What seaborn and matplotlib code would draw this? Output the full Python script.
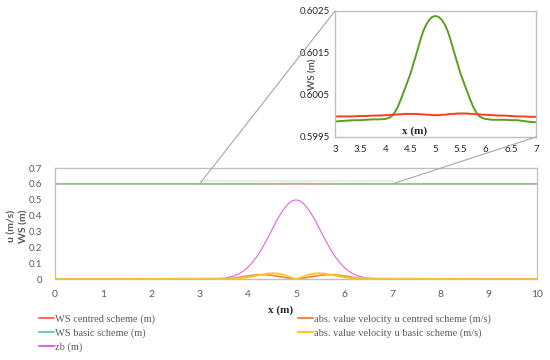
import matplotlib
matplotlib.use("Agg")
import pandas as pd
import seaborn as sns
import matplotlib.pyplot as plt
from matplotlib.patches import Rectangle, ConnectionPatch
from matplotlib.lines import Line2D

# grid for bed and velocities
x = [0, 0.5, 1, 1.5, 2, 2.5,
     3.0, 3.1, 3.2, 3.3, 3.4, 3.5, 3.6, 3.7, 3.8, 3.9,
     4.0, 4.1, 4.2, 4.3, 4.4, 4.5, 4.6, 4.7, 4.8, 4.9,
     5.0, 5.1, 5.2, 5.3, 5.4, 5.5, 5.6, 5.7, 5.8, 5.9,
     6.0, 6.1, 6.2, 6.3, 6.4, 6.5, 6.6, 6.7, 6.8, 6.9,
     7.0, 7.5, 8, 8.5, 9, 9.5, 10]
zb = [0, 0, 0, 0, 0, 0,
      0.0003, 0.0005, 0.001, 0.002, 0.004, 0.007, 0.012, 0.020, 0.032, 0.050,
      0.075, 0.107, 0.148, 0.197, 0.252, 0.311, 0.369, 0.421, 0.463, 0.491,
      0.500, 0.491, 0.463, 0.421, 0.369, 0.311, 0.252, 0.197, 0.148, 0.107,
      0.075, 0.050, 0.032, 0.020, 0.012, 0.007, 0.004, 0.002, 0.001, 0.0005,
      0.0003, 0, 0, 0, 0, 0, 0]
u_centred = [0, 0, 0, 0, 0, 0,
             0, 0, 0, 0.0005, 0.001, 0.002, 0.004, 0.007, 0.011, 0.016,
             0.021, 0.025, 0.028, 0.029, 0.028, 0.025, 0.020, 0.015, 0.010, 0.005,
             0.0, 0.005, 0.010, 0.015, 0.020, 0.025, 0.028, 0.029, 0.028, 0.025,
             0.021, 0.016, 0.011, 0.007, 0.004, 0.002, 0.001, 0.0005, 0, 0,
             0, 0, 0, 0, 0, 0, 0]
u_basic = [0.001, 0.001, 0.001, 0.002, 0.003, 0.004,
           0.005, 0.005, 0.005, 0.005, 0.005, 0.005, 0.004, 0.004, 0.005, 0.008,
           0.012, 0.018, 0.024, 0.030, 0.035, 0.038, 0.037, 0.032, 0.023, 0.012,
           0.001, 0.012, 0.023, 0.032, 0.037, 0.038, 0.035, 0.030, 0.024, 0.018,
           0.012, 0.008, 0.006, 0.006, 0.006, 0.006, 0.006, 0.005, 0.005, 0.005,
           0.005, 0.004, 0.003, 0.002, 0.001, 0.001, 0]

# finer grid for the water surface
x_ws = [0,
        3.0, 3.125, 3.25, 3.375, 3.5, 3.625, 3.75, 3.875,
        4.0, 4.0625, 4.125, 4.1875, 4.25, 4.3125, 4.375, 4.4375, 4.5, 4.5625, 4.625, 4.6875, 4.75,
        4.8125, 4.875, 4.9375, 5.0,
        5.0625, 5.125, 5.1875, 5.25, 5.3125, 5.375, 5.4375, 5.5, 5.5625, 5.625, 5.6875, 5.75,
        5.8125, 5.875, 5.9375, 6.0,
        6.125, 6.25, 6.375, 6.5, 6.625, 6.75, 6.875, 7.0,
        10]
ws_basic = [0.59987,
            0.59987, 0.59988, 0.59989, 0.59990, 0.59990, 0.59991, 0.59992, 0.59992,
            0.59993, 0.59995, 0.59999, 0.60008, 0.60022, 0.60040, 0.60060, 0.60080, 0.60100, 0.60125,
            0.60150, 0.60176, 0.60200, 0.60217, 0.60229, 0.60236, 0.60238,
            0.60236, 0.60229, 0.60217, 0.60200, 0.60176, 0.60150, 0.60125, 0.60100, 0.60080, 0.60060,
            0.60040, 0.60022, 0.60008, 0.59999, 0.59995, 0.59993,
            0.59991, 0.59991, 0.59991, 0.59990, 0.59990, 0.59988, 0.59986, 0.59985,
            0.59985]
ws_centred = [0.59999,
              0.59999, 0.59999, 0.59999, 0.59999, 0.60000, 0.60000, 0.60001, 0.60001,
              0.60002, 0.60002, 0.60003, 0.60003, 0.60004, 0.60004, 0.60005, 0.60005, 0.60005, 0.60005,
              0.60005, 0.60004, 0.60004, 0.60003, 0.60003, 0.60002, 0.60002,
              0.60002, 0.60003, 0.60003, 0.60004, 0.60005, 0.60005, 0.60006, 0.60006, 0.60006, 0.60006,
              0.60005, 0.60005, 0.60004, 0.60004, 0.60003, 0.60003,
              0.60002, 0.60001, 0.60001, 0.60000, 0.59999, 0.59999, 0.59998, 0.59998,
              0.59998]

labels = ["WS centred scheme (m)", "WS basic scheme (m)", "zb (m)",
          "abs. value velocity u centred scheme (m/s)", "abs. value velocity u basic scheme (m/s)"]
colors = ["#ff6f61", "#66d9a0", "#dd66dd", "#f28c4a", "#ffc81e"]

df = pd.DataFrame({"x": x, "zb": zb, "uc": u_centred, "ub": u_basic})
dws = pd.DataFrame({"x": x_ws, "basic": ws_basic, "centred": ws_centred})

sns.set_style("white")
plt.rcParams["font.family"] = ["Lato", "DejaVu Sans"]

grey = "#595959"
spine = "#bfbfbf"

fig = plt.figure(figsize=(5.5, 3.6), dpi=100)
ax = fig.add_axes([55 / 550, 1 - 279.3 / 360, 482 / 550, 111.3 / 360])

ax.add_patch(Rectangle((3, 0.599), 4, 0.024, facecolor="#f2f2f2", edgecolor="#e3e3e3", lw=0.6, zorder=0.5))
sns.lineplot(data=dws, x="x", y="centred", ax=ax, color=colors[0], lw=0.9)
sns.lineplot(data=dws, x="x", y="basic", ax=ax, color=colors[1], lw=0.9)
sns.lineplot(data=df, x="x", y="zb", ax=ax, color=colors[2], lw=0.8)
sns.lineplot(data=df, x="x", y="uc", ax=ax, color=colors[3], lw=1.3)
sns.lineplot(data=df, x="x", y="ub", ax=ax, color=colors[4], lw=1.3)

ax.set_xlim(0, 10)
ax.set_ylim(0, 0.7)
ax.set_xticks(range(0, 11))
ax.set_yticks([0, 0.1, 0.2, 0.3, 0.4, 0.5, 0.6, 0.7])
ax.set_yticklabels(["0", "0.1", "0.2", "0.3", "0.4", "0.5", "0.6", "0.7"])
ax.tick_params(axis="x", direction="in", length=3, color=spine, labelsize=7.5, labelcolor=grey, pad=8)
ax.tick_params(axis="y", length=0, labelsize=7, labelcolor=grey, pad=9)
for s in ax.spines.values():
    s.set_color(spine)
    s.set_linewidth(0.9)

ax.set_xlabel("x (m)", family="Liberation Serif", fontweight="bold", fontsize=8, color="#262626")
ax.xaxis.set_label_coords((281 - 55) / 482, -0.235)
ax.set_ylabel("u (m/s)\nWS (m)", fontweight="bold", fontsize=7.5, color=grey, linespacing=1.3)
ax.yaxis.set_label_coords(-0.056, 0.48)

handles = [Line2D([], [], color=c, lw=1.5) for c in colors]
leg_kw = dict(loc="upper left", frameon=False, prop={"family": "Liberation Serif", "size": 7.5},
              handlelength=1.4, handletextpad=0.15, labelspacing=0.42, borderpad=0, borderaxespad=0)
leg1 = fig.legend(handles[:3], labels[:3], bbox_to_anchor=(39 / 550, 1 - 314.5 / 360), **leg_kw)
leg2 = fig.legend(handles[3:], labels[3:], bbox_to_anchor=(298 / 550, 1 - 314.5 / 360), **leg_kw)
for t in leg1.get_texts() + leg2.get_texts():
    t.set_color(grey)

# inset zoom on the water surface
axi = fig.add_axes([335 / 550, 1 - 137 / 360, 201 / 550, 126 / 360])
axi.set_facecolor("white")
sns.lineplot(data=dws, x="x", y="basic", ax=axi, color="#5aa01e", lw=1.4)
sns.lineplot(data=dws, x="x", y="centred", ax=axi, color="#ff3d1a", lw=1.4)
axi.set_xlim(3, 7)
axi.set_ylim(0.5995, 0.6025)
axi.set_xticks([3, 3.5, 4, 4.5, 5, 5.5, 6, 6.5, 7])
axi.set_xticklabels(["3", "3.5", "4", "4.5", "5", "5.5", "6", "6.5", "7"])
axi.set_yticks([0.5995, 0.6005, 0.6015, 0.6025])
axi.set_yticklabels(["0.5995", "0.6005", "0.6015", "0.6025"])
axi.tick_params(axis="both", direction="in", length=3, color=spine, labelsize=7, labelcolor="#262626")
axi.tick_params(axis="x", pad=6)
for s in axi.spines.values():
    s.set_color(spine)
    s.set_linewidth(1.0)
axi.set_xlabel("x (m)", family="Liberation Serif", fontweight="bold", fontsize=8, color="#262626")
axi.xaxis.set_label_coords((415 - 335) / 201, (137 - 131) / 126)
axi.xaxis.label.set_va("center")
axi.set_ylabel("WS (m)", fontweight="bold", fontsize=7, color=grey)
axi.yaxis.set_label_coords(-0.085, 0.5)

for xa, corner in [(3, (0, 1)), (7, (1, 0))]:
    con = ConnectionPatch(xyA=(xa, 0.6), coordsA=ax.transData, xyB=corner, coordsB=axi.transAxes,
                          color="#a6a6a6", lw=0.8)
    fig.add_artist(con)

plt.savefig("out.png", dpi=100)
